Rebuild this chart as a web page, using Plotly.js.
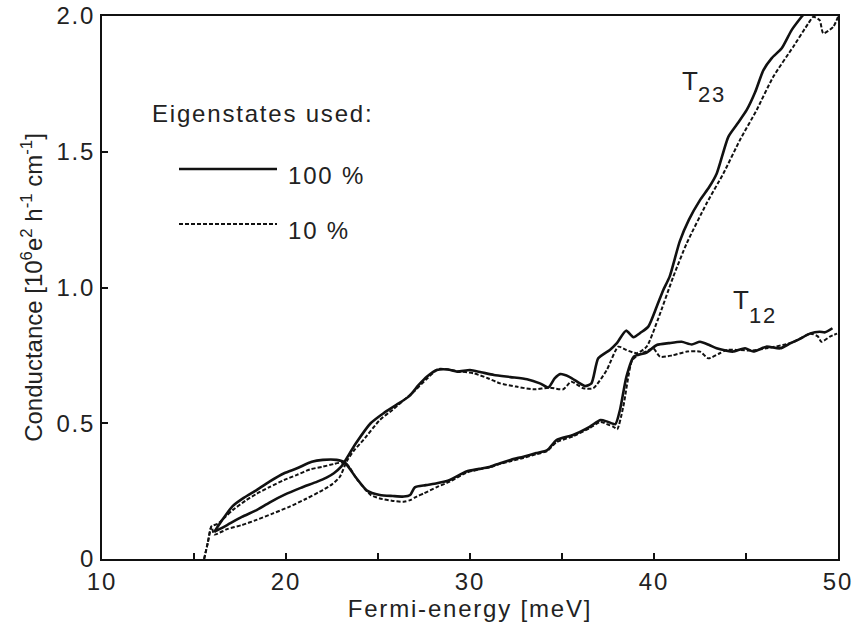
<!DOCTYPE html>
<html>
<head>
<meta charset="utf-8">
<script src="https://cdn.plot.ly/plotly-3.0.1.min.js"></script>
<style>
  html, body { margin: 0; padding: 0; background: #fff; }
  #chart { width: 858px; height: 630px; }
  /* slightly wider letter spacing for horizontal labels */
  #chart .xtick text, #chart .ytick text, #chart .g-xtitle text, #chart .annotation-text { letter-spacing: 1.8px; }
</style>
</head>
<body>
<div id="chart"></div>
<script>
// Conductance vs Fermi energy, T12 and T23, full vs reduced eigenstate basis
var t12FullE = [16.1,16.6,17.1,17.7,18.4,19.1,19.9,20.6,21.4,22.0,22.75,23.2,23.8,24.4,25.1,25.8,26.4,26.75,27.0,27.6,28.2,28.9,29.8,30.5,31.1,31.6,32.2,32.9,33.6,34.2,34.7,35.6,36.5,37.1,37.5,37.9,38.15,38.5,38.9,39.6,40.15,40.8,41.5,42.05,42.5,43.0,43.4,43.9,44.3,44.95,45.4,46.1,46.85,47.4,47.9,48.5,49.0,49.3,49.7];
var t12FullG = [0.10,0.15,0.195,0.225,0.254,0.285,0.316,0.334,0.358,0.365,0.365,0.355,0.30,0.252,0.236,0.232,0.23,0.236,0.264,0.272,0.279,0.291,0.322,0.332,0.34,0.352,0.365,0.377,0.39,0.401,0.438,0.457,0.487,0.512,0.505,0.497,0.549,0.671,0.745,0.76,0.788,0.795,0.80,0.79,0.80,0.788,0.776,0.768,0.764,0.776,0.764,0.782,0.776,0.794,0.81,0.831,0.837,0.835,0.85];

var t12TenthE = [15.55,15.75,15.95,16.3,16.7,17.1,17.8,18.4,19.1,19.9,20.6,21.3,22.0,22.6,23.0,23.3,23.9,24.6,25.1,25.8,26.4,26.75,27.1,27.5,28.2,28.9,29.8,30.5,31.1,31.6,32.2,32.9,33.6,34.2,34.7,35.6,36.5,37.1,37.5,37.8,38.0,38.33,38.8,39.1,39.6,39.96,40.33,41.0,41.8,42.5,42.95,43.5,43.95,44.6,45.3,46.1,47.0,47.6,48.5,48.9,49.1,49.56,49.95];
var t12TenthG = [0.0,0.06,0.12,0.13,0.155,0.18,0.215,0.24,0.265,0.291,0.31,0.33,0.34,0.35,0.355,0.35,0.29,0.236,0.223,0.214,0.211,0.217,0.23,0.242,0.265,0.285,0.318,0.33,0.338,0.35,0.36,0.372,0.386,0.398,0.43,0.452,0.482,0.505,0.495,0.487,0.478,0.561,0.73,0.75,0.765,0.776,0.745,0.75,0.764,0.764,0.739,0.755,0.77,0.77,0.768,0.776,0.788,0.80,0.83,0.82,0.80,0.819,0.83];

var t23FullE = [16.1,16.8,17.6,18.4,19.1,19.9,20.8,21.7,22.2,22.6,23.0,23.2,23.8,24.6,25.3,26.0,26.7,27.2,27.65,28.2,28.8,29.3,30.0,30.6,31.3,32.2,33.1,33.8,34.26,34.6,34.9,35.4,35.9,36.25,36.6,36.97,37.6,37.97,38.48,38.88,39.3,39.69,40.15,40.5,40.85,41.4,41.9,42.5,43.0,43.41,44.04,44.5,45.04,45.5,45.94,46.4,46.94,47.48,48.02,48.3];
var t23FullG = [0.10,0.125,0.155,0.18,0.208,0.236,0.262,0.285,0.30,0.316,0.34,0.36,0.426,0.50,0.537,0.568,0.60,0.64,0.671,0.696,0.698,0.69,0.696,0.688,0.678,0.67,0.662,0.647,0.632,0.665,0.681,0.671,0.65,0.637,0.647,0.739,0.77,0.794,0.841,0.817,0.835,0.856,0.93,0.99,1.04,1.17,1.25,1.322,1.37,1.42,1.555,1.60,1.654,1.72,1.80,1.845,1.881,1.948,1.997,2.02];

var t23TenthE = [15.55,15.75,15.95,16.1,16.8,17.6,18.4,19.3,20.2,21.1,22.0,22.5,22.93,23.3,23.7,24.2,25.1,25.8,26.4,27.0,27.6,28.3,29.3,30.2,31.0,31.63,32.5,33.44,34.35,35.07,35.5,36.16,36.7,37.43,38.06,38.5,39.06,39.6,40.2,41.05,41.78,42.86,43.77,44.67,45.58,46.48,47.57,48.39,48.66,49.0,49.2,49.74,50.0];
var t23TenthG = [0.0,0.06,0.12,0.09,0.11,0.125,0.144,0.168,0.193,0.222,0.254,0.275,0.303,0.36,0.40,0.438,0.512,0.55,0.585,0.62,0.66,0.70,0.692,0.684,0.665,0.647,0.635,0.625,0.631,0.625,0.653,0.629,0.629,0.696,0.782,0.77,0.758,0.782,0.88,1.04,1.163,1.31,1.42,1.543,1.654,1.776,1.887,1.973,1.997,1.985,1.936,1.96,1.997];

var xMajorTicks = [10,20,30,40,50];
var xMinorTicks = [15,25,35,45];
var yTicks = [0,0.5,1.0,1.5,2.0];
var yTickText = ['0','0.5','1.0','1.5','2.0'];

var legendTitle = 'Eigenstates used:';
var legendLabels = ['100 %', '10 %'];
var curveNames = ['T', '23', '12'];

var FONT = '"Liberation Sans", Arial, Helvetica, sans-serif';
var INK = '#111';
var TXT = '#222';
var FS = 24;

function curve(x, y, dashed) {
  return {
    x: x, y: y, type: 'scatter', mode: 'lines', showlegend: false,
    line: { color: INK, width: dashed ? 2 : 2.6, dash: dashed ? '4px,2px' : 'solid', shape: 'spline', smoothing: 0.6 },
    hoverinfo: 'skip'
  };
}

var traces = [
  curve(t12FullE, t12FullG, false),
  curve(t12TenthE, t12TenthG, true),
  curve(t23FullE, t23FullG, false),
  curve(t23TenthE, t23TenthG, true)
];

// pixel -> paper helpers for the plot box (102..838 x 16..559)
function px(x) { return (x - 102) / 736; }
function py(y) { return (559 - y) / 543; }

function label(x, y, text, size) {
  return {
    xref: 'paper', yref: 'paper', x: px(x), y: py(y), xanchor: 'left', yanchor: 'middle',
    align: 'left', borderpad: 0, text: text, showarrow: false,
    font: { family: FONT, size: size, color: TXT }
  };
}

var axisCommon = {
  ticks: 'inside', ticklen: 6, tickwidth: 2, tickcolor: INK,
  showline: true, linewidth: 2, linecolor: INK, mirror: true,
  showgrid: false, zeroline: false,
  tickfont: { family: FONT, size: FS, color: TXT }
};

var layout = {
  width: 858, height: 630,
  margin: { l: 102, r: 20, t: 16, b: 71 },
  paper_bgcolor: '#fff', plot_bgcolor: '#fff',
  font: { family: FONT, size: FS, color: TXT },
  showlegend: false,
  xaxis: Object.assign({}, axisCommon, {
    range: [10, 50], tickmode: 'array', tickvals: xMajorTicks,
    minor: { tickmode: 'array', tickvals: xMinorTicks, ticks: 'inside', ticklen: 6, tickwidth: 2, tickcolor: INK, showgrid: false },
    title: { text: 'Fermi-energy [meV]', font: { family: FONT, size: FS, color: TXT }, standoff: 5 }
  }),
  yaxis: Object.assign({}, axisCommon, {
    range: [0, 2], tickmode: 'array', tickvals: yTicks, ticktext: yTickText,
    title: { text: 'Conductance [10<sup>6</sup>e<sup>2</sup> h<sup>-1</sup> cm<sup>-1</sup>]', font: { family: FONT, size: FS, color: TXT }, standoff: 12 }
  }),
  shapes: [
    { type: 'line', xref: 'paper', yref: 'paper', x0: px(179), x1: px(277), y0: py(169), y1: py(169), line: { color: INK, width: 2.6 } },
    { type: 'line', xref: 'paper', yref: 'paper', x0: px(179), x1: px(277), y0: py(224), y1: py(224), line: { color: INK, width: 2, dash: '4px,2px' } }
  ],
  annotations: [
    label(151, 113, legendTitle, FS),
    label(287, 175, legendLabels[0], FS),
    label(287, 230, legendLabels[1], FS),
    label(681, 81, curveNames[0], 26),
    label(697, 95, curveNames[1], 22),
    label(732, 300, curveNames[0], 26),
    label(748, 315, curveNames[2], 22)
  ]
};

Plotly.newPlot('chart', traces, layout, { staticPlot: true, displayModeBar: false });
</script>
</body>
</html>
